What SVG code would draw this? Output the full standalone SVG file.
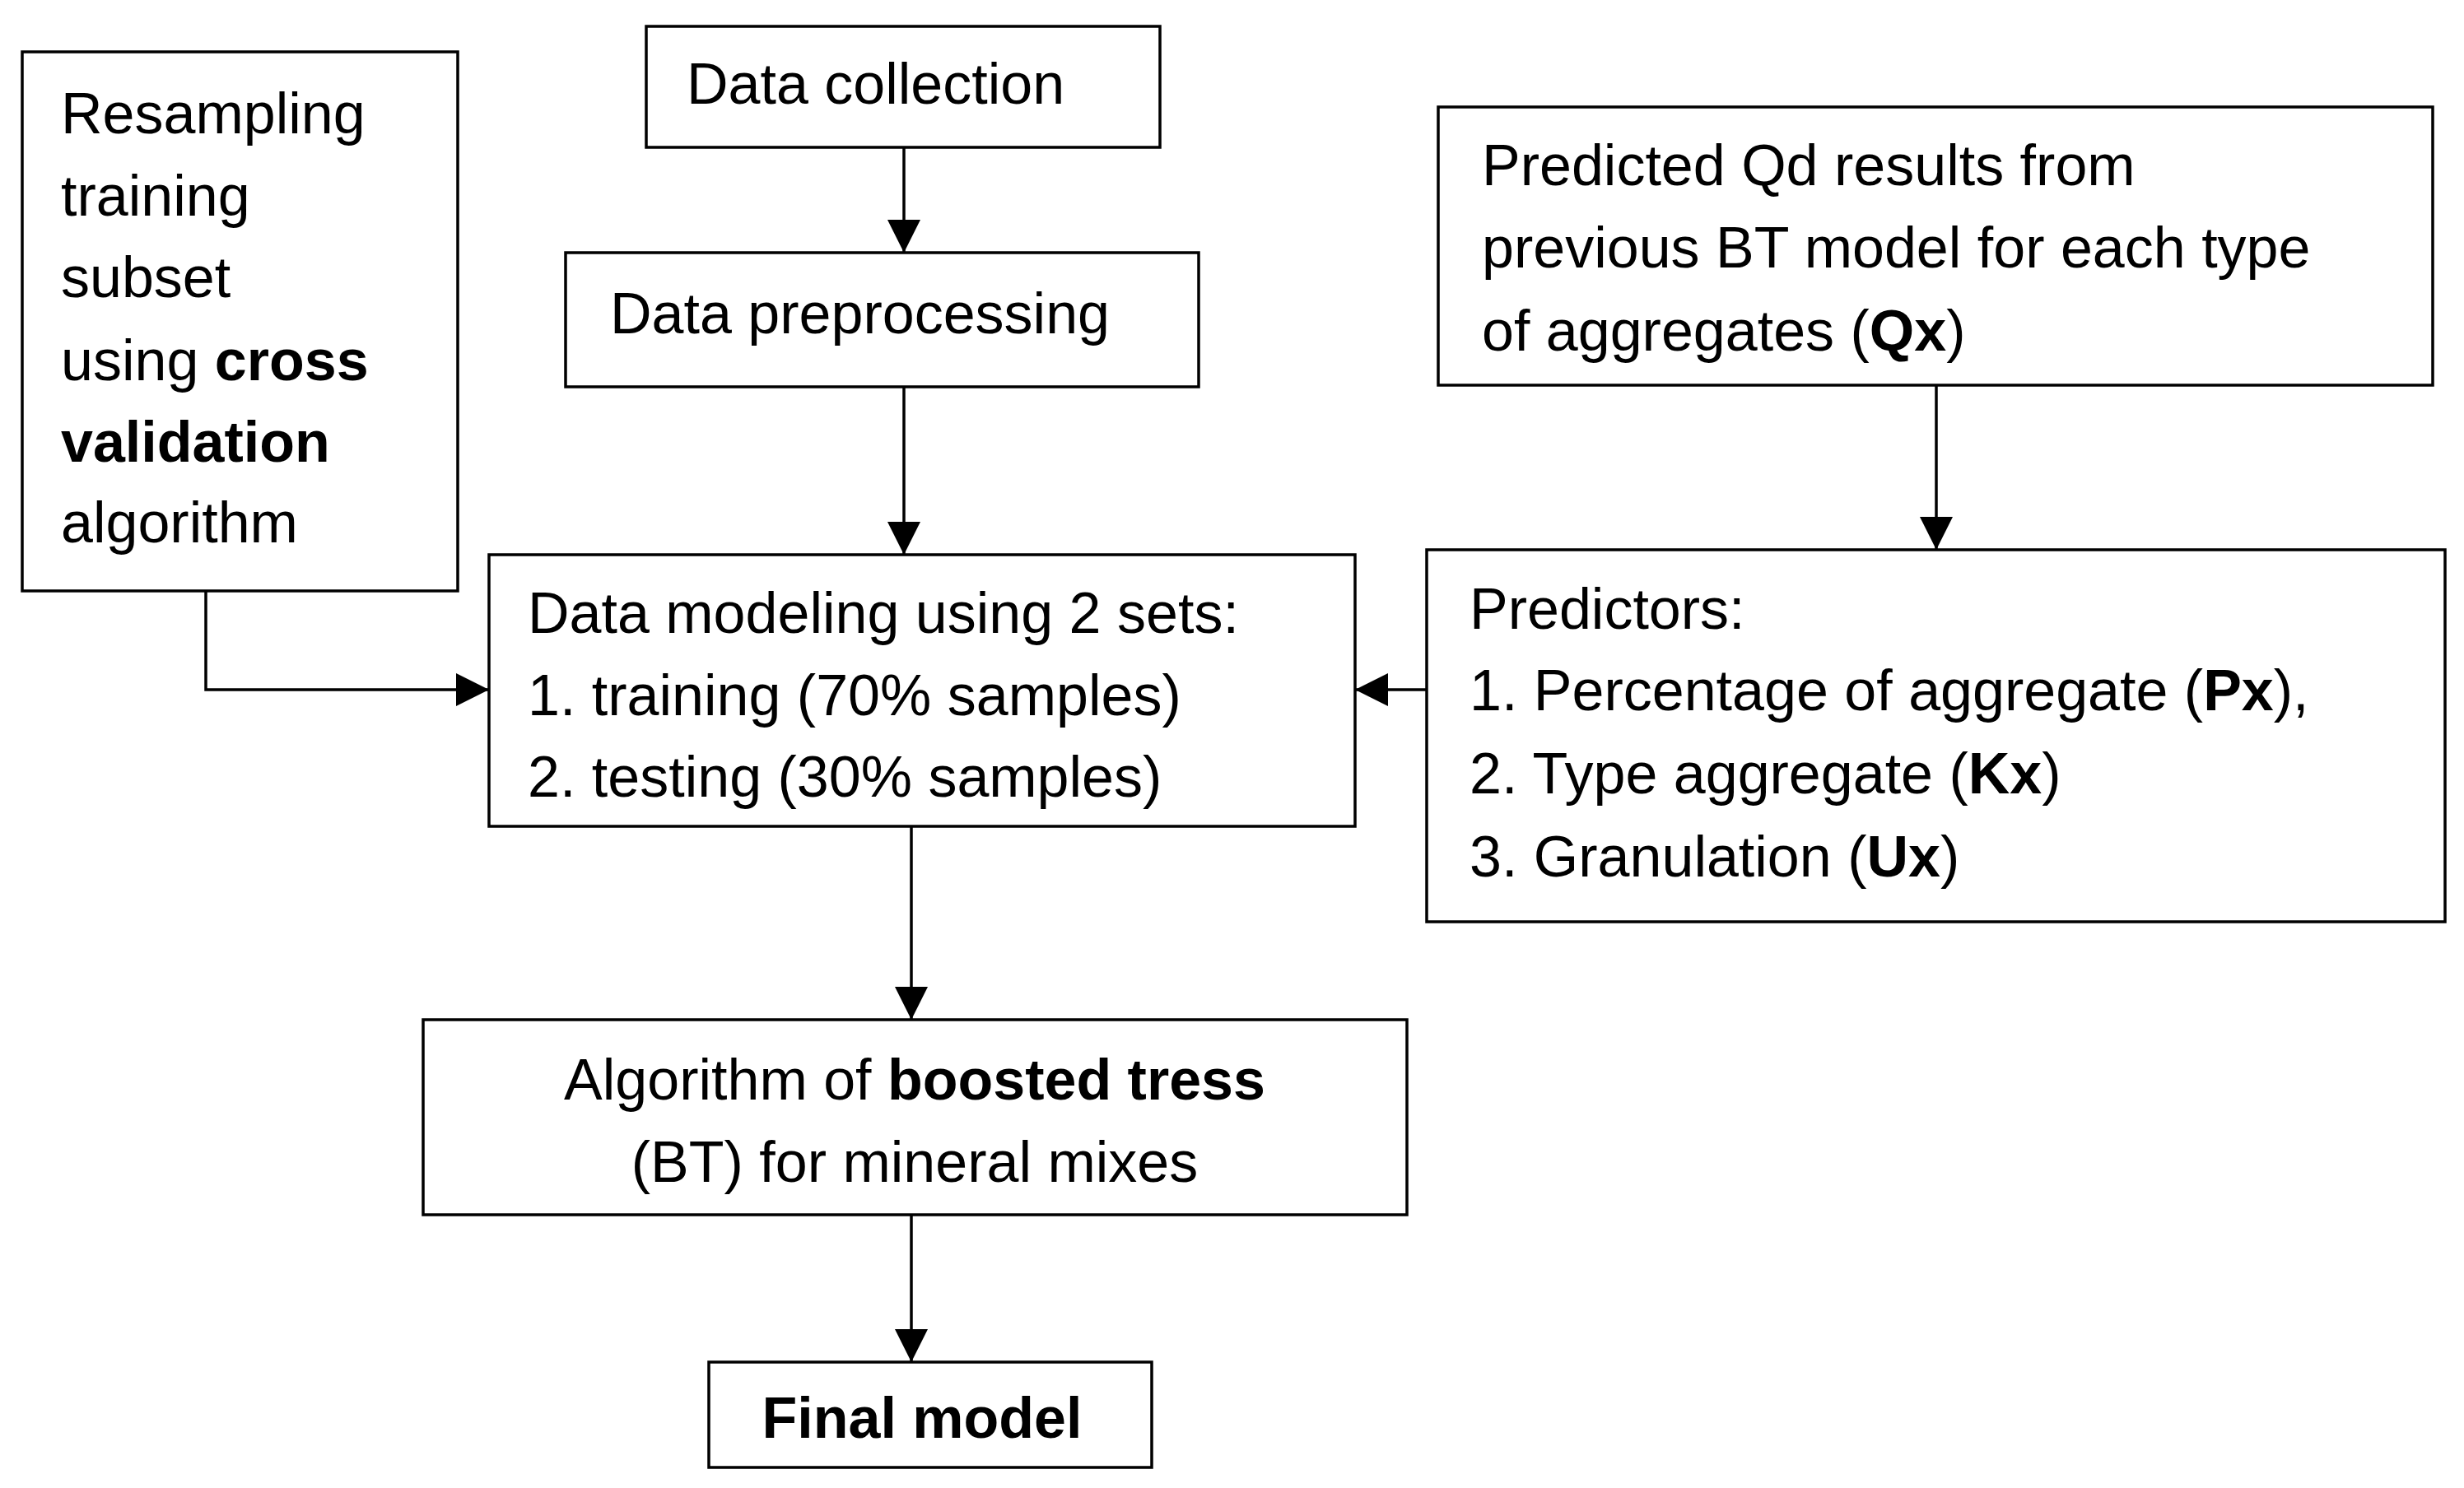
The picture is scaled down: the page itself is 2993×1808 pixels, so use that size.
<svg xmlns="http://www.w3.org/2000/svg" width="2993" height="1808" viewBox="0 0 2993 1808">
<defs>
<style>
.box{fill:#fff;stroke:#000;stroke-width:3.5}
text{font-family:"Liberation Sans",Arial,sans-serif;font-size:70px;fill:#000}
.c{text-anchor:middle}
.l{fill:none;stroke:#000;stroke-width:3.5}
</style>
<marker id="a" viewBox="0 0 10 10" refX="10" refY="5" markerWidth="11" markerHeight="11" markerUnits="userSpaceOnUse" orient="auto"><path d="M0,0L10,5L0,10z"/></marker>
<marker id="b" viewBox="0 0 10 10" refX="10" refY="5" markerWidth="40" markerHeight="40" markerUnits="userSpaceOnUse" orient="auto"><path d="M0,0L10,5L0,10z"/></marker>
</defs>
<rect width="2993" height="1808" fill="#fff"/>
<g id="connectors">
<path class="l" d="M1098,179V307" marker-end="url(#b)"/>
<path class="l" d="M1098,470V674" marker-end="url(#b)"/>
<path class="l" d="M2352,468V668" marker-end="url(#b)"/>
<path class="l" d="M250,718V838H594" marker-end="url(#b)"/>
<path class="l" d="M1733,838H1646" marker-end="url(#b)"/>
<path class="l" d="M1107,1004V1239" marker-end="url(#b)"/>
<path class="l" d="M1107,1476V1655" marker-end="url(#b)"/>
</g>
<g id="resampling"><rect class="box" x="27" y="63" width="529" height="655"/>
<text x="74" y="162">Resampling</text><text x="74" y="262">training</text><text x="74" y="361">subset</text>
<text x="74" y="462">using <tspan font-weight="bold">cross</tspan></text><text x="74" y="561" font-weight="bold">validation</text><text x="74" y="659">algorithm</text></g>
<g id="collection"><rect class="box" x="785" y="32" width="624" height="147"/><text x="834" y="126">Data collection</text></g>
<g id="preprocessing"><rect class="box" x="687" y="307" width="769" height="163"/><text x="741" y="405">Data preprocessing</text></g>
<g id="predicted"><rect class="box" x="1747" y="130" width="1208" height="338"/>
<text x="1800" y="225">Predicted Qd results from</text><text x="1800" y="325">previous BT model for each type</text>
<text x="1800" y="426">of aggregates (<tspan font-weight="bold">Qx</tspan>)</text></g>
<g id="modeling"><rect class="box" x="594" y="674" width="1052" height="330"/>
<text x="641" y="769">Data modeling using 2 sets:</text><text x="641" y="869">1. training (70% samples)</text><text x="641" y="968">2. testing (30% samples)</text></g>
<g id="predictors"><rect class="box" x="1733" y="668" width="1237" height="452"/>
<text x="1785" y="764">Predictors:</text>
<text x="1785" y="863">1. Percentage of aggregate (<tspan font-weight="bold">Px</tspan>),</text>
<text x="1785" y="964">2. Type aggregate (<tspan font-weight="bold">Kx</tspan>)</text>
<text x="1785" y="1065">3. Granulation (<tspan font-weight="bold">Ux</tspan>)</text></g>
<g id="algorithm"><rect class="box" x="514" y="1239" width="1195" height="237"/>
<text class="c" x="1111" y="1336">Algorithm of <tspan font-weight="bold">boosted tress</tspan></text>
<text class="c" x="1111" y="1436">(BT) for mineral mixes</text></g>
<g id="final"><rect class="box" x="861" y="1655" width="538" height="128"/>
<text class="c" x="1120" y="1747" font-weight="bold">Final model</text></g>
</svg>
